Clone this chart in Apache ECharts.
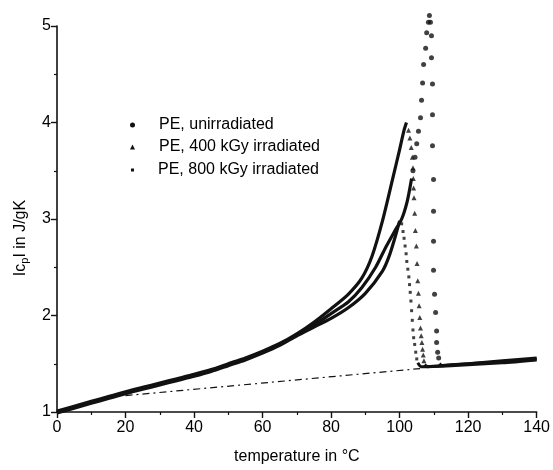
<!DOCTYPE html>
<html>
<head>
<meta charset="utf-8">
<script src="https://cdn.jsdelivr.net/npm/echarts@6/dist/echarts.min.js"></script>
<style>
html,body{margin:0;padding:0;background:#fff;}
#c{width:553px;height:470px;}
</style>
</head>
<body>
<div id="c"></div>
<script>
// ---- data ----
const seriesNames = ['PE, unirradiated', 'PE, 400 kGy irradiated', 'PE, 800 kGy irradiated'];

// dense (continuous-looking) rising parts
const unirrRiseT = [0,5,10,15,20,25,30,35,40,45,50,55,60,65,70,75,80,85,89,93,96,98.5,100.6,102.2,103.5];
const unirrRiseV = [1.00,1.05,1.10,1.15,1.20,1.245,1.29,1.335,1.38,1.43,1.49,1.55,1.62,1.70,1.80,1.90,2.02,2.14,2.29,2.50,2.71,2.87,3.00,3.18,3.42];
const irr400RiseT = [0,5,10,15,20,25,30,35,40,45,50,55,60,65,70,75,80,85,89,92,95,98,100,101.3,102];
const irr400RiseV = [1.01,1.06,1.11,1.16,1.21,1.255,1.30,1.345,1.39,1.44,1.50,1.56,1.63,1.71,1.81,1.93,2.07,2.22,2.39,2.62,2.98,3.42,3.72,3.92,4.00];
const irr800RiseT = [0,5,10,15,20,25,30,35,40,45,50,55,60,65,70,75,80,85,90,95,97,99,100];
const irr800RiseV = [0.99,1.04,1.09,1.14,1.19,1.235,1.28,1.325,1.37,1.42,1.48,1.54,1.61,1.69,1.79,1.88,1.97,2.08,2.23,2.46,2.62,2.85,2.98];

// sparse (separate dots) melting parts
const unirrDotsT = [103.9,104.5,105.0,105.5,106.1,106.4,106.7,107.0,107.6,107.9,108.4,108.7,109.0,109.3,109.3,109.6,109.6,109.6,109.9,109.9,109.9,109.9,110.2,110.5,110.8,110.8,111.1,111.4];
const unirrDotsV = [3.50,3.64,3.78,3.91,4.05,4.23,4.41,4.60,4.77,4.93,5.04,5.11,5.04,4.90,4.67,4.40,4.08,3.76,3.41,3.08,2.77,2.47,2.22,2.03,1.84,1.72,1.62,1.56];
const irr400DotsT = [102.6,103.0,103.4,103.7,103.9,104.0,104.1,104.2,104.4,104.6,104.9,105.1,105.3,105.5,105.7,105.9,106.1,106.3,106.5,106.7,106.9,107.1];
const irr400DotsV = [3.92,3.84,3.74,3.64,3.53,3.42,3.32,3.22,3.06,2.88,2.72,2.54,2.36,2.23,2.10,1.98,1.87,1.79,1.72,1.65,1.59,1.53];
const irr800DotsT = [100.6,101.0,101.3,101.6,101.9,102.1,102.4,102.7,102.9,103.1,103.3,103.5,103.7,103.9,104.1,104.4,104.7,105.0];
const irr800DotsV = [2.95,2.87,2.80,2.72,2.64,2.56,2.48,2.40,2.32,2.24,2.15,2.05,1.95,1.85,1.77,1.70,1.62,1.55];

// post-melting baseline parts
const unirrPostT = [111.6,112.5,120,130,140];
const unirrPostV = [1.50,1.48,1.50,1.53,1.56];
const irr400PostT = [107.3,108.2,115,130,140];
const irr400PostV = [1.49,1.47,1.49,1.52,1.55];
const irr800PostT = [105.3,106.3,115,130,140];
const irr800PostV = [1.51,1.47,1.48,1.51,1.54];

// extrapolated dash-dot baseline
const baseT = [20,106];
const baseV = [1.17,1.45];

const xTicks = {min:0, max:140, interval:20};
const yTicks = {min:1, max:5, interval:1};

// ---- build ----
const zip = (a,b) => a.map((v,i)=>[v,b[i]]);
const ink = '#111';
const font = 'Liberation Sans, Arial, sans-serif';

function lineSeries(name, t, v, w){
  return {type:'line', name:name, data:zip(t,v), showSymbol:false, symbol:'none', smooth:0.25,
    lineStyle:{color:ink, width:w}, itemStyle:{color:ink}, z:3, silent:true, clip:false};
}
function dotSeries(name, t, v, sym, size){
  return {type:'scatter', name:name, data:zip(t,v), symbol:sym, symbolSize:size,
    itemStyle:{color:ink}, z:4, silent:true, clip:false};
}

const axisCommon = {
  axisLine:{show:true, lineStyle:{color:ink, width:1.6}},
  axisTick:{show:true, inside:false, length:6, lineStyle:{color:ink, width:1.4}},
  minorTick:{show:true, splitNumber:2, length:3, lineStyle:{color:ink, width:1.2}},
  splitLine:{show:false},
  axisLabel:{color:'#000', fontSize:16, fontFamily:font}
};

function legendItem(name, icon, w, h, top, left){
  return {show:true, orient:'vertical', left:left, top:top, padding:0, itemGap:0,
    itemWidth:w, itemHeight:h, selectedMode:false,
    data:[{name:name, icon:icon}],
    textStyle:{color:'#000', fontSize:16, fontFamily:font, padding:[0,0,0,19]}};
}

const option = {
  animation:false,
  backgroundColor:'#fff',
  grid:{left:57, right:16, top:26, bottom:55, containLabel:false},
  legend:[
    legendItem(seriesNames[0],'circle',5,5,117,130),
    legendItem(seriesNames[1],'triangle',5,5,139,130),
    legendItem(seriesNames[2],'rect',3,3,162,131)
  ],
  xAxis:Object.assign({type:'value', min:xTicks.min, max:xTicks.max, interval:xTicks.interval,
    name:'temperature in °C', nameLocation:'middle', nameGap:37,
    nameTextStyle:{color:'#000', fontSize:16, fontFamily:font}}, axisCommon,
    {axisLabel:Object.assign({}, axisCommon.axisLabel, {margin:8})}),
  yAxis:Object.assign({type:'value', min:yTicks.min, max:yTicks.max, interval:yTicks.interval,
    name:'Ic{s|p}I in J/gK', nameLocation:'middle', nameGap:27, nameRotate:90,
    nameTextStyle:{color:'#000', fontSize:16, fontFamily:font, padding:[0,38,0,0],
      rich:{s:{fontSize:11, fontFamily:font, color:'#000', verticalAlign:'bottom', padding:[8,0,0,0]}}}}, axisCommon,
    {axisLabel:Object.assign({}, axisCommon.axisLabel, {margin:6})}),
  series:[
    lineSeries(seriesNames[0], unirrRiseT, unirrRiseV, 3.2),
    lineSeries(seriesNames[1], irr400RiseT, irr400RiseV, 3.2),
    lineSeries(seriesNames[2], irr800RiseT, irr800RiseV, 3.2),
    lineSeries(seriesNames[0], unirrPostT, unirrPostV, 3),
    lineSeries(seriesNames[1], irr400PostT, irr400PostV, 3),
    lineSeries(seriesNames[2], irr800PostT, irr800PostV, 3),
    dotSeries(seriesNames[0], unirrDotsT, unirrDotsV, 'circle', 5),
    dotSeries(seriesNames[1], irr400DotsT, irr400DotsV, 'triangle', 5),
    dotSeries(seriesNames[2], irr800DotsT, irr800DotsV, 'rect', 3),
    {type:'line', data:zip(baseT, baseV), symbol:'none', silent:true,
      lineStyle:{color:ink, width:1.2, type:[7,4,2,4]}, z:2}
  ]
};

const chart = echarts.init(document.getElementById('c'), null, {renderer:'canvas'});
chart.setOption(option);
</script>
</body>
</html>
